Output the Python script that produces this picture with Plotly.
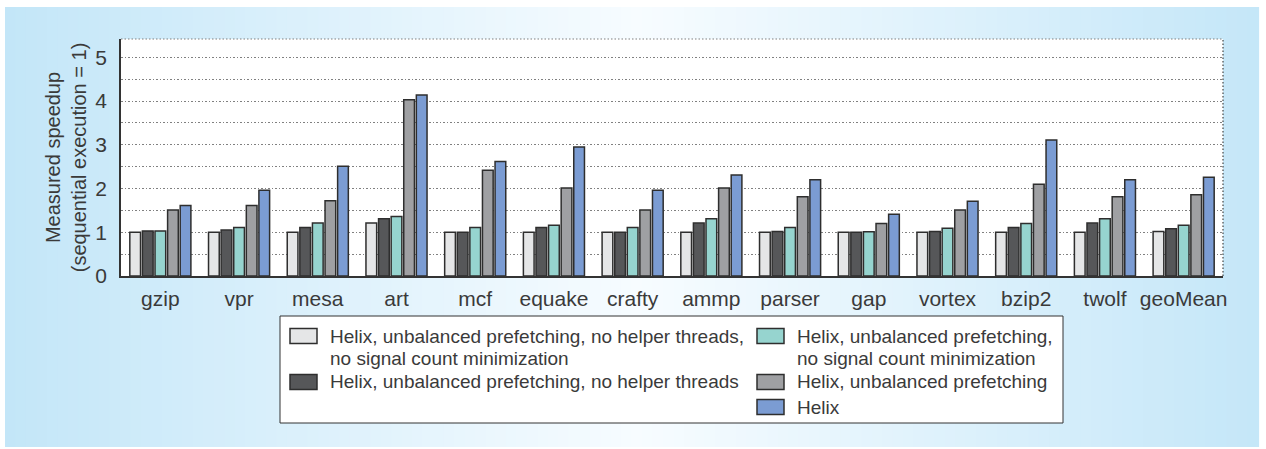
import plotly.graph_objects as go

# ---- data ----
categories = ["gzip", "vpr", "mesa", "art", "mcf", "equake", "crafty", "ammp",
              "parser", "gap", "vortex", "bzip2", "twolf", "geoMean"]
series_names = [
    "Helix, unbalanced prefetching, no helper threads,<br>no signal count minimization",
    "Helix, unbalanced prefetching, no helper threads",
    "Helix, unbalanced prefetching,<br>no signal count minimization",
    "Helix, unbalanced prefetching",
    "Helix",
]
s_light = [1.0, 1.0, 1.0, 1.21, 1.0, 1.0, 1.0, 1.0, 1.0, 1.0, 1.0, 1.0, 1.0, 1.02]
s_dark = [1.03, 1.05, 1.11, 1.31, 1.0, 1.11, 1.0, 1.21, 1.02, 1.0, 1.02, 1.11, 1.21, 1.08]
s_teal = [1.03, 1.11, 1.21, 1.36, 1.11, 1.16, 1.11, 1.31, 1.11, 1.01, 1.09, 1.2, 1.31, 1.16]
s_gray = [1.51, 1.61, 1.72, 4.03, 2.42, 2.01, 1.51, 2.01, 1.81, 1.2, 1.51, 2.1, 1.81, 1.86]
s_blue = [1.61, 1.96, 2.51, 4.14, 2.62, 2.95, 1.96, 2.31, 2.2, 1.41, 1.71, 3.11, 2.2, 2.26]
series_values = [s_light, s_dark, s_teal, s_gray, s_blue]
colors = ["#e5e6e7", "#565759", "#96d4cf", "#9fa0a3", "#7b9cd3"]
y_ticks = [0, 1, 2, 3, 4, 5]

W, H = 1266, 449
ML, MR, MT, MB = 121, 43, 39, 173
FONT = "Liberation Sans, Arial, Helvetica, sans-serif"
TXT = "#3a3a3a"
EDGE = "#2e2e2e"
GRID = "#808080"
DOT = "1.5px,2px"

fig = go.Figure()
for name, vals, col in zip(series_names, series_values, colors):
    fig.add_trace(go.Bar(
        x=categories, y=vals, name=name.replace("<br>", " "), showlegend=False,
        marker=dict(color=col, line=dict(color=EDGE, width=1.5)),
    ))

# ---- pixel -> paper helpers ----
pw, ph = W - ML - MR, H - MT - MB
def px2x(px):
    return (px - ML) / pw
def py2y(py):
    return (H - MB - py) / ph

shapes = []
annotations = []

# ---- background gradient (decorative) ----
x0p, x1p, y0p, y1p = 5, 1258, 7, 447
n = 120
edge = (195, 230, 248)
center = (247, 252, 255)
cx = 640.0
for i in range(n):
    a = x0p + (x1p - x0p) * i / n
    b = x0p + (x1p - x0p) * (i + 1) / n
    m = (a + b) / 2
    t = min(1.0, abs(m - cx) / (cx - x0p)) ** 1.0
    c = tuple(int(round(center[k] + (edge[k] - center[k]) * t)) for k in range(3))
    shapes.append(dict(type="rect", xref="paper", yref="paper", layer="below",
                       x0=px2x(a), x1=px2x(b) + 0.001, y0=py2y(y1p), y1=py2y(y0p),
                       line=dict(width=0), fillcolor="rgb(%d,%d,%d)" % c))
# white plot area
shapes.append(dict(type="rect", xref="paper", yref="paper", layer="below",
                   x0=0, x1=1, y0=0, y1=1, line=dict(width=0), fillcolor="white"))
# dotted top and right frame
shapes.append(dict(type="line", xref="x domain", yref="y domain", x0=0, x1=1, y0=1, y1=1,
                   line=dict(color=GRID, width=1.2, dash=DOT)))
shapes.append(dict(type="line", xref="x domain", yref="y domain", x0=1, x1=1, y0=0, y1=1,
                   line=dict(color="#444", width=1.2, dash=DOT)))

# ---- legend (drawn manually: two columns, wide swatches) ----
shapes.append(dict(type="rect", xref="paper", yref="paper",
                   x0=px2x(280), x1=px2x(1063), y0=py2y(423), y1=py2y(316),
                   line=dict(color="#333", width=1), fillcolor="white", layer="above"))
legend_slots = [(290, 336), (290, 382), (757, 336), (757, 382), (757, 407)]
SW, SH, LINE = 27, 15, 22
for name, col, (sx, sy) in zip(series_names, colors, legend_slots):
    shapes.append(dict(type="rect", xref="paper", yref="paper",
                       x0=px2x(sx), x1=px2x(sx + SW), y0=py2y(sy + SH / 2), y1=py2y(sy - SH / 2),
                       line=dict(color=EDGE, width=1.5), fillcolor=col, layer="above"))
    for j, line in enumerate(name.split("<br>")):
        annotations.append(dict(xref="paper", yref="paper", x=px2x(sx + 38), y=py2y(sy + j * LINE),
                                xanchor="left", yanchor="middle", showarrow=False,
                                text=line, font=dict(family=FONT, size=19, color=TXT)))

fig.update_layout(
    width=W, height=H,
    margin=dict(l=ML, r=MR, t=MT, b=MB),
    paper_bgcolor="white", plot_bgcolor="white",
    barmode="group", bargap=0.2, bargroupgap=0.15,
    font=dict(family=FONT, size=19, color=TXT),
    shapes=shapes, annotations=annotations,
    showlegend=False,
    xaxis=dict(
        showline=True, linecolor="#333", linewidth=1.5,
        ticks="", showgrid=False, tickfont=dict(size=21, color=TXT),
        ticklabelstandoff=3,
    ),
    yaxis=dict(
        range=[0, 5.42], tickvals=y_ticks, ticktext=[str(v) for v in y_ticks],
        showline=True, linecolor="#333", linewidth=1.5, zeroline=False,
        showgrid=True, gridcolor=GRID, griddash=DOT, gridwidth=1.2,
        minor=dict(dtick=0.5, tick0=0, showgrid=True, gridcolor=GRID,
                   griddash=DOT, gridwidth=1.2),
        ticks="", tickfont=dict(size=21, color=TXT), ticklabelstandoff=8,
        title=dict(text="Measured speedup<br>(sequential execution = 1)",
                   font=dict(size=20, color=TXT), standoff=3),
    ),
)

fig.write_html("out.html", config={"displayModeBar": False},
               post_script="document.body.style.margin='0';")
